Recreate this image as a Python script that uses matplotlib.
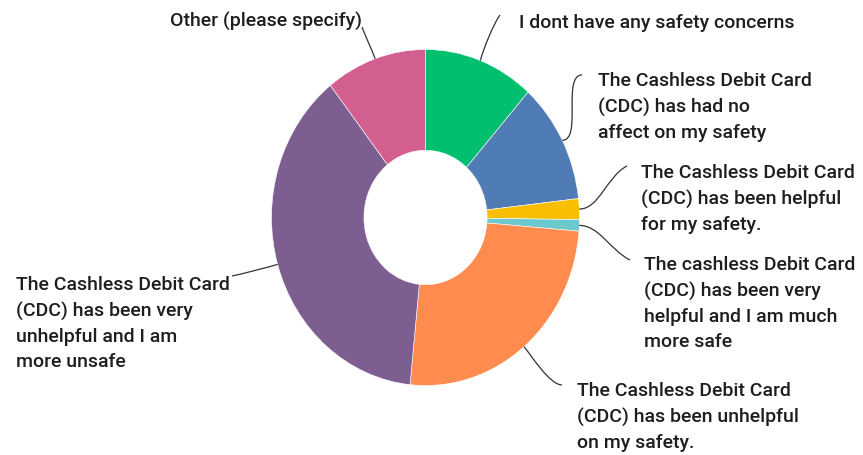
import numpy as np
import matplotlib.pyplot as plt
from matplotlib.path import Path
from matplotlib.patches import PathPatch

# answer shares (%), clockwise from 12 o'clock
labels = [
    "I dont have any safety concerns",
    "The Cashless Debit Card\n(CDC) has had no\naffect on my safety",
    "The Cashless Debit Card\n(CDC) has been helpful\nfor my safety.",
    "The cashless Debit Card\n(CDC) has been very\nhelpful and I am much\nmore safe",
    "The Cashless Debit Card\n(CDC) has been unhelpful\non my safety.",
    "The Cashless Debit Card\n(CDC) has been very\nunhelpful and I am\nmore unsafe",
    "Other (please specify)",
]
shares = [11.6, 11.6, 2.0, 1.1, 25.3, 37.8, 10.6]
colors = ["#00BF6F", "#507CB6", "#F9BE00", "#6BC8CD", "#FF8B4F", "#7D5E90", "#D25F90"]

W, H = 863, 455
fig = plt.figure(figsize=(W / 100, H / 100), dpi=100)

# pie is slightly taller than wide in the reference
cx, cy, rx, ry = 425.5, 217.5, 154, 168
ax = fig.add_axes([(cx - rx) / W, (H - cy - ry) / H, 2 * rx / W, 2 * ry / H])
wedges, _ = ax.pie(shares, colors=colors, startangle=90, counterclock=False,
                   radius=1, wedgeprops=dict(width=0.6, edgecolor="white", linewidth=0.4))
ax.set_xlim(-1, 1)
ax.set_ylim(-1, 1)
ax.set_aspect("auto")
ax.axis("off")

# label placement: text x, text top y (px from top), ha,
# leader end (px from top), control offset at pie, control offset at label
layout = [
    (519, 14, "left", (500, 15), (3, -12), (-6, 8)),
    (598, 72, "left", (582, 75), (20, 0), (-20, 0)),
    (641, 164, "left", (627, 166), (20, 0), (-20, 10)),
    (644, 256, "left", (630, 260), (20, 0), (-20, -10)),
    (577, 382, "left", (562, 385), (8, 10), (-12, 0)),
    (16, 276, "left", (232, 276), (-10, 3), (10, -2)),
    (362, 12, "right", (362, 27), (-3, -8), (3, 8)),
]

font = ["Roboto", "DejaVu Sans"]
fig.canvas.draw()
cum = np.cumsum([0] + shares[:-1])
for i, (lab, s) in enumerate(zip(labels, shares)):
    mid = np.deg2rad((cum[i] + s / 2) * 3.6)
    px, py = ax.transData.transform((np.sin(mid), np.cos(mid)))
    tx, ty, ha, end, c1, c2 = layout[i]
    fig.text(tx / W, 1 - ty / H, lab, ha=ha, va="top", fontsize=14,
             family=font, fontweight="medium", color="#1e1e1e", linespacing=1.51)
    ex, ey = end[0], H - end[1]
    verts = [(px, py), (px + c1[0], py - c1[1]),
             (ex + c2[0], ey - c2[1]), (ex, ey)]
    verts = [(x / W, y / H) for x, y in verts]
    path = Path(verts, [Path.MOVETO, Path.CURVE4, Path.CURVE4, Path.CURVE4])
    fig.add_artist(PathPatch(path, transform=fig.transFigure, fill=False,
                             edgecolor="#333333", lw=0.9))

fig.savefig("out.png", dpi=100)
